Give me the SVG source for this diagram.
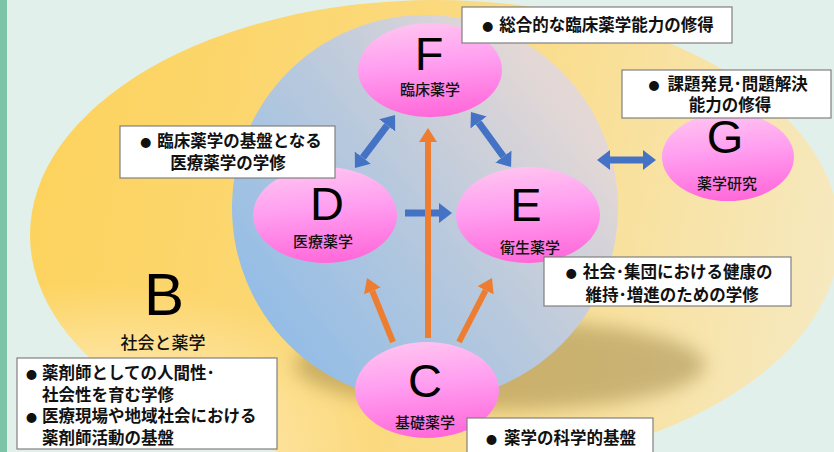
<svg xmlns="http://www.w3.org/2000/svg" width="834" height="452" viewBox="0 0 834 452">
<defs>
<linearGradient id="gYellow" x1="0" y1="0.45" x2="1" y2="0.55">
<stop offset="0" stop-color="#fdd35e"/>
<stop offset="0.45" stop-color="#fbd97c"/>
<stop offset="1" stop-color="#f6e9c0"/>
</linearGradient>
<radialGradient id="gYellowLight" cx="0.08" cy="0.95" r="0.35">
<stop offset="0" stop-color="#fff6e4" stop-opacity="0.9"/>
<stop offset="1" stop-color="#fff6e4" stop-opacity="0"/>
</radialGradient>
<linearGradient id="gBlue" x1="0.1" y1="0.8" x2="0.85" y2="0.2">
<stop offset="0" stop-color="#94bde6"/>
<stop offset="0.5" stop-color="#b8c9dd"/>
<stop offset="1" stop-color="#e4d8d6"/>
</linearGradient>
<linearGradient id="gPink" x1="0.35" y1="0" x2="0.5" y2="1">
<stop offset="0" stop-color="#ffc4f0"/>
<stop offset="0.45" stop-color="#ff9ef0"/>
<stop offset="1" stop-color="#ff68da"/>
</linearGradient>
<filter id="blur" x="-20%" y="-50%" width="140%" height="200%">
<feGaussianBlur stdDeviation="9"/>
</filter>
<marker id="hBlue" viewBox="0 0 13 20" refX="0" refY="10" markerWidth="13" markerHeight="20" markerUnits="userSpaceOnUse" orient="auto-start-reverse">
<path d="M0,0 L13,10 L0,20 z" fill="#4472c4"/>
</marker>
<marker id="hOrange" viewBox="0 0 14 18" refX="0" refY="9" markerWidth="14" markerHeight="18" markerUnits="userSpaceOnUse" orient="auto-start-reverse">
<path d="M0,0 L14,9 L0,18 z" fill="#ed7d31"/>
</marker>
</defs>
<style>
.letter{font-family:"Liberation Sans",Arial,sans-serif;font-size:47px;fill:#000;text-anchor:middle}
.nlabel{font-family:"Noto Sans CJK JP",sans-serif;font-size:15px;font-weight:500;fill:#111;text-anchor:middle}
.box{fill:#ffffff;stroke:#808080;stroke-width:1.2}
.btxt{font-family:"Noto Sans CJK JP",sans-serif;font-size:16.5px;font-weight:bold;fill:#111}
.mid{text-anchor:middle}
.bul{font-size:11px}
.node{fill:url(#gPink)}
.ab{stroke:#4472c4;stroke-width:7;fill:none}
.ao{stroke:#ed7d31;stroke-width:6;fill:none}
</style>
<rect x="0" y="0" width="834" height="452" fill="#e2f0eb"/>
<rect x="0" y="0" width="7" height="452" fill="#7dc3a7"/>
<g id="regionB">
<ellipse cx="435" cy="235" rx="405" ry="235" fill="url(#gYellow)"/>
<ellipse cx="435" cy="235" rx="405" ry="235" fill="url(#gYellowLight)"/>
<ellipse cx="500" cy="365" rx="205" ry="45" fill="#a48c4e" opacity="0.55" filter="url(#blur)"/>
<text class="letter" x="164" y="315" style="font-size:60px">B</text>
<text class="nlabel" x="163" y="349" style="font-size:17px">社会と薬学</text>
</g>
<circle id="sphere" cx="425" cy="208" r="193" fill="url(#gBlue)"/>
<g id="connectors">
<line class="ab" x1="362.8" y1="157.6" x2="387.2" y2="125.4" marker-start="url(#hBlue)" marker-end="url(#hBlue)"/>
<line class="ab" x1="478.6" y1="122.5" x2="503.4" y2="156.5" marker-start="url(#hBlue)" marker-end="url(#hBlue)"/>
<line class="ab" x1="610" y1="160" x2="643" y2="160" marker-start="url(#hBlue)" marker-end="url(#hBlue)"/>
<line class="ab" x1="405" y1="213" x2="439" y2="213" marker-end="url(#hBlue)"/>
<line class="ao" x1="428" y1="338" x2="428" y2="142" marker-end="url(#hOrange)"/>
<line class="ao" x1="393" y1="342" x2="372.3" y2="291" marker-end="url(#hOrange)"/>
<line class="ao" x1="459" y1="342" x2="485.6" y2="290.4" marker-end="url(#hOrange)"/>
</g>
<g id="nodeF">
<ellipse class="node" cx="430" cy="70" rx="72" ry="47"/>
<text class="letter" x="429" y="70">F</text>
<text class="nlabel" x="430" y="95">臨床薬学</text>
</g>
<g id="nodeD">
<ellipse class="node" cx="325" cy="215" rx="72" ry="48"/>
<text class="letter" x="327" y="220">D</text>
<text class="nlabel" x="323" y="247">医療薬学</text>
</g>
<g id="nodeE">
<ellipse class="node" cx="528" cy="215" rx="72" ry="48"/>
<text class="letter" x="526" y="221">E</text>
<text class="nlabel" x="530" y="253">衛生薬学</text>
</g>
<g id="nodeG">
<ellipse class="node" cx="728" cy="157" rx="66" ry="44"/>
<text class="letter" x="725" y="153">G</text>
<text class="nlabel" x="727" y="189">薬学研究</text>
</g>
<g id="nodeC">
<ellipse class="node" cx="427" cy="390" rx="72" ry="48"/>
<text class="letter" x="425" y="397">C</text>
<text class="nlabel" x="425" y="428">基礎薬学</text>
</g>
<g id="boxF">
<rect class="box" x="462" y="7" width="270" height="36"/>
<text class="btxt mid" x="598" y="31"><tspan class="bul">●</tspan><tspan dx="6">総合的な臨床薬学能力の修得</tspan></text>
</g>
<g id="boxG">
<rect class="box" x="622" y="70" width="209" height="48"/>
<text class="btxt mid" x="728" y="90"><tspan class="bul">●</tspan><tspan dx="8">課題発見･問題解決</tspan></text>
<text class="btxt mid" x="730" y="111">能力の修得</text>
</g>
<g id="boxD">
<rect class="box" x="120" y="126" width="215" height="52"/>
<text class="btxt mid" x="231" y="147"><tspan class="bul">●</tspan><tspan dx="6">臨床薬学の基盤となる</tspan></text>
<text class="btxt mid" x="228" y="169">医療薬学の学修</text>
</g>
<g id="boxE">
<rect class="box" x="544" y="257" width="247" height="49"/>
<text class="btxt mid" x="669" y="278"><tspan class="bul">●</tspan><tspan dx="6">社会･集団における健康の</tspan></text>
<text class="btxt mid" x="672" y="301">維持･増進のための学修</text>
</g>
<g id="boxB">
<rect class="box" x="17" y="358" width="260" height="91"/>
<text class="btxt" x="26" y="379"><tspan class="bul">●</tspan><tspan x="42">薬剤師としての人間性･</tspan></text>
<text class="btxt" x="42" y="401">社会性を育む学修</text>
<text class="btxt" x="26" y="422"><tspan class="bul">●</tspan><tspan x="42">医療現場や地域社会における</tspan></text>
<text class="btxt" x="42" y="444">薬剤師活動の基盤</text>
</g>
<g id="boxC">
<rect class="box" x="467" y="418" width="186" height="40"/>
<text class="btxt mid" x="561" y="444"><tspan class="bul">●</tspan><tspan dx="7">薬学の科学的基盤</tspan></text>
</g>
</svg>
